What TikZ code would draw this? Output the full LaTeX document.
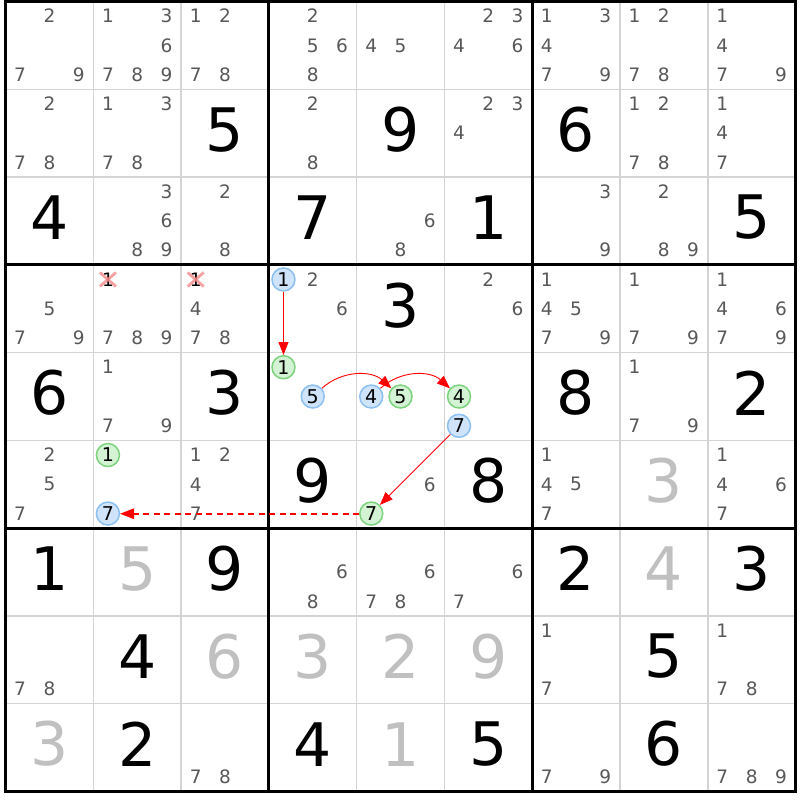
\documentclass[tikz,border=0pt]{standalone}
\usepackage{fontspec}
\setmainfont{DejaVu Sans}
\usetikzlibrary{arrows.meta,calc}
\definecolor{candgray}{RGB}{88,88,88}
\definecolor{givengray}{RGB}{192,192,192}
\definecolor{thingrid}{RGB}{212,212,212}
\definecolor{blueF}{RGB}{207,228,250}
\definecolor{blueB}{RGB}{140,192,240}
\definecolor{greenF}{RGB}{212,242,212}
\definecolor{greenB}{RGB}{125,210,125}
\definecolor{crossc}{RGB}{240,130,130}
\definecolor{arrred}{RGB}{255,0,0}
\newcommand\ox{5.5}
\newcommand\oy{1.5}
\newcommand\cs{87.78}
\newcommand\candset[3]{%
  \foreach \d in {#3}{%
    \pgfmathsetmacro\px{\ox+(#2-1)*\cs+(2*mod(\d-1,3)+1)*\cs/6}%
    \pgfmathsetmacro\py{\oy+(#1-1)*\cs+(2*div(\d-1,3)+1)*\cs/6}%
    \node[cand] (c#1#2\d) at (\px,\py) {\d};
  }}
\newcommand\circcand[4]{%
    \pgfmathsetmacro\px{\ox+(#2-1)*\cs+(2*mod(#3-1,3)+1)*\cs/6}%
    \pgfmathsetmacro\py{\oy+(#1-1)*\cs+(2*div(#3-1,3)+1)*\cs/6}%
    \node[#4] (c#1#2#3) at (\px,\py) {#3};}
\newcommand\bigdig[4]{%
    \pgfmathsetmacro\px{\ox+(#2-0.5)*\cs}%
    \pgfmathsetmacro\py{\oy+(#1-0.5)*\cs-3.5}%
    \node[bigd,text=#4] (b#1#2) at (\px,\py) {#3};}
\begin{document}
\begin{tikzpicture}[x=1pt,y=-1pt,
  cand/.style={inner sep=0pt,text=candgray,font=\fontsize{18.5}{18.5}\selectfont},
  bigd/.style={inner sep=0pt,font=\fontsize{60}{60}\selectfont},
  bluec/.style={circle,draw=blueB,fill=blueF,line width=1.5pt,minimum size=23pt,inner sep=0pt,text=black,font=\fontsize{19}{19}\selectfont},
  greenc/.style={circle,draw=greenB,fill=greenF,line width=1.5pt,minimum size=23pt,inner sep=0pt,text=black,font=\fontsize{19}{19}\selectfont},
  crossed/.style={inner sep=0pt,text=black,font=\fontsize{18.5}{18.5}\selectfont},
  xmark/.style={draw=crossc,line width=2.8pt,opacity=0.75},
  redarr/.style={draw=arrred,line width=1.1pt,-{Triangle[length=13pt,width=10pt]}},
  dashseg/.style={draw=arrred,line width=2pt},
  thinline/.style={draw=thingrid,line width=1.5pt},
  thickline/.style={draw=black,line width=3pt}]
\useasboundingbox (0,0) rectangle (800,800);
\fill[white] (0,0) rectangle (800,800);
% thin grid
\foreach \i in {1,2,4,5,7,8}{
  \draw[thinline] ({\ox+\i*\cs},\oy) -- ({\ox+\i*\cs},{\oy+9*\cs});
  \draw[thinline] (\ox,{\oy+\i*\cs}) -- ({\ox+9*\cs},{\oy+\i*\cs});
}
% row 1
\candset{1}{1}{2,7,9}
\candset{1}{2}{1,3,6,7,8,9}
\candset{1}{3}{1,2,7,8}
\candset{1}{4}{2,5,6,8}
\candset{1}{5}{4,5}
\candset{1}{6}{2,3,4,6}
\candset{1}{7}{1,3,4,7,9}
\candset{1}{8}{1,2,7,8}
\candset{1}{9}{1,4,7,9}
% row 2
\candset{2}{1}{2,7,8}
\candset{2}{2}{1,3,7,8}
\bigdig{2}{3}{5}{black}
\candset{2}{4}{2,8}
\bigdig{2}{5}{9}{black}
\candset{2}{6}{2,3,4}
\bigdig{2}{7}{6}{black}
\candset{2}{8}{1,2,7,8}
\candset{2}{9}{1,4,7}
% row 3
\bigdig{3}{1}{4}{black}
\candset{3}{2}{3,6,8,9}
\candset{3}{3}{2,8}
\bigdig{3}{4}{7}{black}
\candset{3}{5}{6,8}
\bigdig{3}{6}{1}{black}
\candset{3}{7}{3,9}
\candset{3}{8}{2,8,9}
\bigdig{3}{9}{5}{black}
% row 4
\candset{4}{1}{5,7,9}
\candset{4}{2}{7,8,9}
\circcand{4}{2}{1}{crossed}
\candset{4}{3}{4,7,8}
\circcand{4}{3}{1}{crossed}
\draw[xmark] ([shift={(-8,-7)}]c421.center) -- ([shift={(8,7)}]c421.center);
\draw[xmark] ([shift={(-8,7)}]c421.center) -- ([shift={(8,-7)}]c421.center);
\draw[xmark] ([shift={(-8,-7)}]c431.center) -- ([shift={(8,7)}]c431.center);
\draw[xmark] ([shift={(-8,7)}]c431.center) -- ([shift={(8,-7)}]c431.center);
\candset{4}{4}{2,6}
\circcand{4}{4}{1}{bluec}
\bigdig{4}{5}{3}{black}
\candset{4}{6}{2,6}
\candset{4}{7}{1,4,5,7,9}
\candset{4}{8}{1,7,9}
\candset{4}{9}{1,4,6,7,9}
% row 5
\bigdig{5}{1}{6}{black}
\candset{5}{2}{1,7,9}
\bigdig{5}{3}{3}{black}
\circcand{5}{4}{1}{greenc}
\circcand{5}{4}{5}{bluec}
\circcand{5}{5}{4}{bluec}
\circcand{5}{5}{5}{greenc}
\circcand{5}{6}{4}{greenc}
\circcand{5}{6}{7}{bluec}
\bigdig{5}{7}{8}{black}
\candset{5}{8}{1,7,9}
\bigdig{5}{9}{2}{black}
% row 6
\candset{6}{1}{2,5,7}
\circcand{6}{2}{1}{greenc}
\circcand{6}{2}{7}{bluec}
\candset{6}{3}{1,2,4,7}
\bigdig{6}{4}{9}{black}
\candset{6}{5}{6}
\circcand{6}{5}{7}{greenc}
\bigdig{6}{6}{8}{black}
\candset{6}{7}{1,4,5,7}
\bigdig{6}{8}{3}{givengray}
\candset{6}{9}{1,4,6,7}
% row 7
\bigdig{7}{1}{1}{black}
\bigdig{7}{2}{5}{givengray}
\bigdig{7}{3}{9}{black}
\candset{7}{4}{6,8}
\candset{7}{5}{6,7,8}
\candset{7}{6}{6,7}
\bigdig{7}{7}{2}{black}
\bigdig{7}{8}{4}{givengray}
\bigdig{7}{9}{3}{black}
% row 8
\candset{8}{1}{7,8}
\bigdig{8}{2}{4}{black}
\bigdig{8}{3}{6}{givengray}
\bigdig{8}{4}{3}{givengray}
\bigdig{8}{5}{2}{givengray}
\bigdig{8}{6}{9}{givengray}
\candset{8}{7}{1,7}
\bigdig{8}{8}{5}{black}
\candset{8}{9}{1,7,8}
% row 9
\bigdig{9}{1}{3}{givengray}
\bigdig{9}{2}{2}{black}
\candset{9}{3}{7,8}
\bigdig{9}{4}{4}{black}
\bigdig{9}{5}{1}{givengray}
\bigdig{9}{6}{5}{black}
\candset{9}{7}{7,9}
\bigdig{9}{8}{6}{black}
\candset{9}{9}{7,8,9}
% thick lines
\foreach \i in {0,3,6,9}{
  \draw[thickline] ({\ox+\i*\cs},{\oy-1.5}) -- ({\ox+\i*\cs},{\oy+9*\cs+1.5});
  \draw[thickline] ({\ox-1.5},{\oy+\i*\cs}) -- ({\ox+9*\cs+1.5},{\oy+\i*\cs});
}
% chain
\draw[redarr] (c441) -- (c541);
\draw[redarr,line width=0.9pt] (c545) to[bend left=42] (c555);
\draw[redarr,line width=0.9pt] (c554) to[bend left=42] (c564);
\draw[redarr,line width=0.8pt] (c567) -- (c657);
% dashed connector c657 -> c627, drawn as red dashes and a filled tip
\coordinate (dA) at ($(c657.west)+(0,0.2)$);
\coordinate (dB) at ($(c627.east)+(0,0.2)$);
\foreach \k in {0,...,21}{
  \draw[dashseg] ($(dA)+(-10.5*\k,0)$) -- ($(dA)+(-10.5*\k-6,0)$);
}
\fill[arrred] (dB) -- ($(dB)+(14,-5.5)$) -- ($(dB)+(14,5.5)$) -- cycle;
\end{tikzpicture}
\end{document}
